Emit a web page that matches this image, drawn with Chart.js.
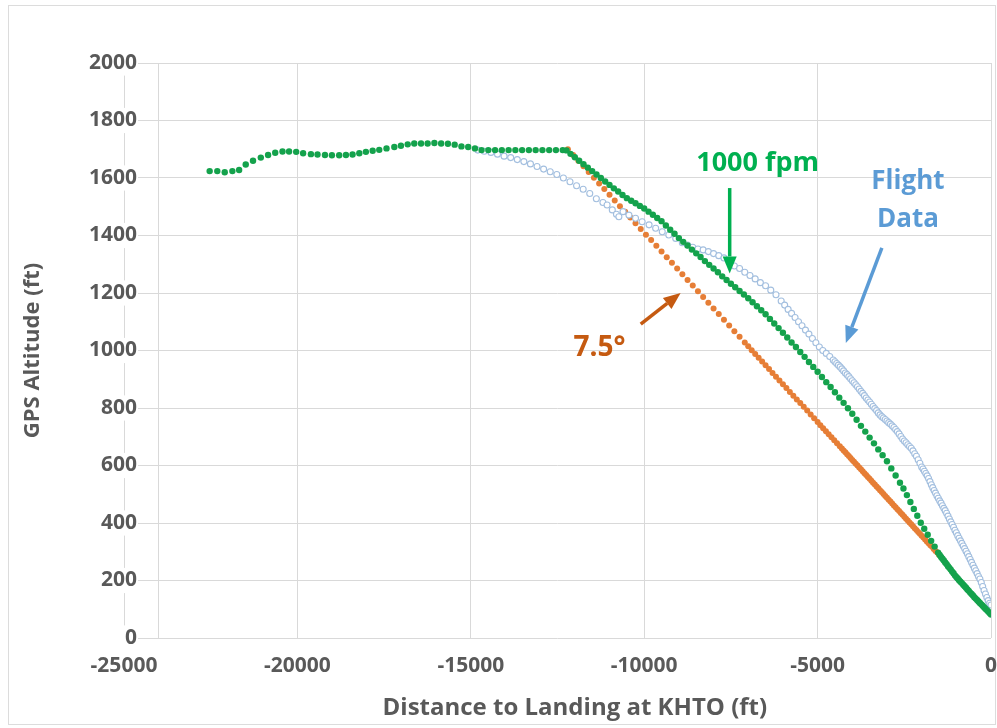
<!DOCTYPE html>
<html><head><meta charset="utf-8">
<script src="https://cdn.jsdelivr.net/npm/chart.js@4.4.0/dist/chart.umd.min.js"></script>
<style>html,body{margin:0;padding:0;background:#fff}canvas{display:block}</style>
</head><body>
<canvas id="c" width="997" height="728"></canvas>
<script>
// ---- data ----
const xTickValues = [-25000, -20000, -15000, -10000, -5000, 0];
const xExtraGrid = [-24000];
const yTickValues = [0, 200, 400, 600, 800, 1000, 1200, 1400, 1600, 1800, 2000];

const fpmX = [-22530,-22310,-22095,-21875,-21680,-21490,-21280,-21055,-20845,-20640,-20430,-20240,-20035,-19835,-19610,-19420,-19205,-19005,-18795,-18600,-18410,-18215,-18025,-17830,-17640,-17430,-17205,-17015,-16820,-16630,-16435,-16245,-16050,-15855,-15660,-15465,-15270,-15075,-14880,-14690,-14495,-14300,-14105,-13910,-13715,-13520,-13325,-13130,-12935,-12740,-12545,-12350,-12240,
-12125,-12000,-11875,-11750,-11625,-11500,-11375,-11250,-11125,-11000,-10875,-10750,-10625,-10500,-10375,-10250,-10125,-10000,-9875,-9750,-9625,-9500,-9375,-9250,-9125,-9000,-8875,-8750,-8625,-8500,-8375,-8250,-8125,-8000,-7875,-7750,-7625,-7500,-7375,-7250,-7125,-7000,-6875,-6750,-6625,-6500,-6375,-6250,-6125,-6000,-5875,-5750,-5625,-5500,-5375,-5250,-5125,-5000,-4875,-4750,-4625,-4500,-4375,-4250,-4125,-4000,-3875,-3750,-3625,-3500,-3375,-3250,-3125,-3000,-2875,-2750,-2625,
-2525,-2425,-2325,-2225,-2125,-2025,-1925,-1825,-1725,-1625,-1525,
-1480,-1440,-1400,-1360,-1320,-1280,-1240,-1200,-1160,-1120,-1080,-1040,-1000,-960,-920,-880,-840,-800,-760,-720,-680,-640,-600,-560,-520,-480,-440,-400,-360,-320,-280,-240,-200,-160,-120,-80,-40,0];
const fpmY = [1624,1624,1620,1624,1628,1647,1660,1671,1680,1688,1692,1692,1691,1686,1683,1682,1680,1679,1679,1680,1682,1686,1691,1695,1698,1703,1708,1712,1717,1720,1720,1720,1722,1720,1719,1716,1710,1708,1703,1697,1697,1697,1697,1697,1697,1697,1697,1697,1697,1697,1697,1697,1696,
1684,1672,1660,1648,1636,1624,1612,1600,1588,1576,1564,1553,1541,1530,1521,1512,1503,1494,1483,1472,1461,1450,1435,1420,1406,1391,1378,1365,1351,1338,1325,1311,1298,1285,1272,1258,1245,1232,1220,1207,1195,1182,1168,1154,1140,1126,1110,1094,1078,1062,1045,1028,1012,995,978,960,943,926,908,890,873,855,836,818,799,780,759,738,718,697,677,656,636,615,590,565,540,
520,497,473,449,425,401,380,359,338,318,297,
289,282,276,270,263,257,250,244,238,231,225,218,212,207,201,196,191,185,180,175,169,164,158,153,148,142,137,132,127,122,117,112,107,102,97,92,87,82];

const glideX = [-12200,-12050,-11900,-11750,-11600,-11450,-11300,-11150,-11000,-10850,-10700,-10550,-10400,-10250,-10100,-9950,-9800,-9650,-9500,-9350,-9200,-9050,-8900,-8750,-8600,-8450,-8300,-8150,-8000,-7850,-7700,-7550,-7400,-7250,-7100,
-7000,-6900,-6800,-6700,-6600,-6500,-6400,-6300,-6200,-6100,-6000,-5900,-5800,-5700,-5600,-5500,-5400,-5300,-5200,-5100,-5000,
-4920,-4840,-4760,-4680,-4600,-4520,-4440,-4360,
-4300,-4250,-4200,-4150,-4100,-4050,-4000,-3950,-3900,-3850,-3800,-3750,-3700,-3650,-3600,-3550,-3500,-3450,-3400,-3350,-3300,-3250,-3200,-3150,-3100,-3050,-3000,-2950,-2900,-2850,-2800,-2750,-2700,-2650,-2600,-2550,-2500,-2450,-2400,-2350,-2300,-2250,-2200,-2150,-2100,-2050,-2000,-1950,-1900,-1850,-1800,-1750,-1700,-1650,-1600,-1550,-1500];
const glideY = [1700,1680,1660,1641,1621,1601,1581,1562,1542,1522,1502,1483,1463,1443,1423,1403,1384,1364,1344,1324,1305,1285,1265,1245,1226,1206,1186,1166,1146,1127,1107,1087,1067,1048,1028,
1015,1001,988,975,962,949,936,922,909,896,883,870,856,843,830,817,804,791,777,764,751,
740,730,719,709,698,688,677,667,
659,652,646,639,633,626,619,613,606,600,593,587,580,573,567,560,554,547,540,534,527,521,514,508,501,494,488,481,475,468,461,455,448,442,435,429,422,415,409,402,396,389,382,376,369,363,356,350,343,336,330,323,317,310,303,297,290];

const flightX = [-14800,-14610,-14420,-14230,-14040,-13850,-13660,-13470,-13280,-13090,-12900,-12710,-12520,-12330,-12140,-11950,-11760,-11570,-11380,-11190,-11070,-10920,-10800,-10730,-10610,-10440,-10250,-10060,-9860,-9670,-9480,-9290,-9090,-8900,
-8750,-8600,-8450,-8300,-8150,-8000,-7850,-7700,-7550,-7400,-7250,-7100,-6950,-6800,-6650,-6500,-6350,-6200,-6050,
-5950,-5850,-5750,-5650,-5550,-5450,-5350,-5250,-5150,-5050,-4950,-4850,-4750,-4650,-4550,
-4500,-4450,-4400,-4350,-4300,-4250,-4200,-4150,-4100,-4050,-4000,-3950,-3900,-3850,-3800,-3750,-3700,-3650,-3600,-3550,-3500,-3450,-3400,-3350,-3300,-3250,-3200,-3150,-3100,-3050,-3000,-2950,-2900,-2850,-2800,-2750,-2700,-2650,-2600,-2550,-2500,-2450,-2400,-2350,-2300,-2250,-2200,-2150,-2100,-2050,-2000,
-1960,-1920,-1880,-1840,-1800,-1760,-1720,-1680,-1640,-1600,-1560,-1520,-1480,-1440,-1400,-1360,-1320,-1280,-1240,-1200,-1160,-1120,-1080,-1040,-1000,-960,-920,-880,-840,-800,-760,-720,-680,-640,-600,-560,-520,-480,-440,-400,-360,-320,-280,-240,-200,-160,-120,-80,-40,0];
const flightY = [1697,1693,1689,1683,1676,1671,1664,1657,1649,1640,1631,1622,1612,1600,1587,1573,1561,1546,1528,1515,1506,1489,1474,1465,1483,1471,1460,1448,1437,1425,1413,1402,1390,1375,
1367,1359,1353,1350,1344,1337,1330,1322,1309,1294,1285,1272,1261,1249,1236,1225,1210,1194,1172,
1158,1143,1129,1115,1100,1086,1071,1057,1042,1027,1012,1000,990,979,967,
961,955,949,943,936,929,922,916,909,902,895,888,881,874,866,858,851,843,835,828,821,813,805,798,791,783,776,770,765,760,755,749,744,738,732,725,718,710,701,692,685,679,672,666,660,651,641,632,620,608,595,
588,580,572,564,555,544,533,523,513,504,495,486,477,469,460,451,443,434,424,414,404,395,385,375,366,356,347,338,329,320,311,302,293,283,273,263,253,243,234,224,214,205,193,179,165,153,141,130,121,115];

const toPts = (xs, ys) => xs.map((v, i) => ({ x: v, y: ys[i] }));

const FONT = "'Open Sans', 'Liberation Sans', sans-serif";
const GRID = '#d9d9d9';
const AXIS_TEXT = '#595959';

const framePlugin = {
  id: 'frame',
  beforeDraw(chart) {
    const c = chart.ctx;
    c.save();
    c.fillStyle = '#fff';
    c.fillRect(0, 0, chart.width, chart.height);
    c.strokeStyle = '#dcdcdc';
    c.lineWidth = 1;
    c.strokeRect(8.5, 5.5, 987, 719);
    c.restore();
  }
};

function arrow(ctx, x1, y1, x2, y2, color) {
  const ang = Math.atan2(y2 - y1, x2 - x1);
  const hl = 17, hw = 7;
  const bx = x2 - hl * Math.cos(ang), by = y2 - hl * Math.sin(ang);
  ctx.save();
  ctx.strokeStyle = color; ctx.fillStyle = color;
  ctx.lineWidth = 3.5; ctx.lineCap = 'butt';
  ctx.beginPath(); ctx.moveTo(x1, y1); ctx.lineTo(bx, by); ctx.stroke();
  ctx.beginPath();
  ctx.moveTo(x2, y2);
  ctx.lineTo(bx + hw * Math.sin(ang), by - hw * Math.cos(ang));
  ctx.lineTo(bx - hw * Math.sin(ang), by + hw * Math.cos(ang));
  ctx.closePath(); ctx.fill();
  ctx.restore();
}

const notesPlugin = {
  id: 'notes',
  afterDraw(chart) {
    const { ctx, scales: { x, y }, chartArea } = chart;
    const P = (vx, vy) => [x.getPixelForValue(vx), y.getPixelForValue(vy)];
    ctx.save();
    ctx.textAlign = 'center';
    ctx.textBaseline = 'middle';
    // 1000 fpm
    ctx.fillStyle = '#00b050';
    ctx.font = 'bold 27px ' + FONT;
    let p = P(-6730, 1652); ctx.fillText('1000 fpm', p[0], p[1]);
    arrow(ctx, ...P(-7535, 1565), ...P(-7535, 1268), '#00b050');
    // Flight Data
    ctx.fillStyle = '#5b9bd5';
    ctx.font = 'bold 26px ' + FONT;
    p = P(-2396, 1586); ctx.fillText('Flight', p[0], p[1]);
    p = P(-2396, 1455); ctx.fillText('Data', p[0], p[1]);
    arrow(ctx, ...P(-3147, 1357), ...P(-4186, 1026), '#5b9bd5');
    // 7.5°
    ctx.fillStyle = '#c55a11';
    ctx.font = 'bold 28px ' + FONT;
    p = P(-11290, 1010); ctx.fillText('7.5°', p[0], p[1]);
    arrow(ctx, ...P(-10100, 1092), ...P(-8950, 1200), '#c55a11');
    // axis titles
    ctx.fillStyle = AXIS_TEXT;
    ctx.font = 'bold 24px ' + FONT;
    const cx = (x.getPixelForValue(xExtraGrid[0]) + chartArea.right) / 2;
    ctx.fillText('Distance to Landing at KHTO (ft)', cx, chartArea.bottom + 70);
    ctx.font = 'bold 22px ' + FONT;
    ctx.translate(33, (chartArea.top + chartArea.bottom) / 2);
    ctx.rotate(-Math.PI / 2);
    ctx.fillText('GPS Altitude (ft)', 0, 0);
    ctx.restore();
  }
};

new Chart(document.getElementById('c'), {
  type: 'scatter',
  data: {
    datasets: [
      { label: '1000 fpm', data: toPts(fpmX, fpmY), order: 0,
        pointRadius: 3.2, pointBorderWidth: 0, backgroundColor: '#14a24c', borderColor: '#14a24c' },
      { label: 'Flight Data', data: toPts(flightX, flightY), order: 1,
        pointRadius: 3, pointBorderWidth: 1.1, backgroundColor: '#ffffff', borderColor: '#a3bfdf' },
      { label: '7.5°', data: toPts(glideX, glideY), order: 2,
        pointRadius: 3, pointBorderWidth: 0, backgroundColor: '#e67e36', borderColor: '#e67e36' }
    ]
  },
  options: {
    responsive: false,
    animation: false,
    devicePixelRatio: 1,
    layout: { padding: { left: 10, right: 6, top: 63, bottom: 0 } },
    plugins: { legend: { display: false }, tooltip: { enabled: false } },
    scales: {
      x: {
        type: 'linear', min: -25000, max: 0,
        afterBuildTicks: s => { s.ticks = xTickValues.concat(xExtraGrid).sort((a, b) => a - b).map(v => ({ value: v })); },
        afterFit: s => { s.height = 90; s.paddingRight = 0; s.paddingLeft = 0; },
        grid: { color: GRID, lineWidth: 1, drawTicks: false },
        border: { display: false },
        ticks: {
          autoSkip: false, maxRotation: 0, minRotation: 0, padding: 15,
          color: AXIS_TEXT, font: { family: FONT, size: 21, weight: 'bold' },
          callback: v => xTickValues.includes(v) ? String(v) : ''
        }
      },
      y: {
        min: 0, max: 2000,
        afterBuildTicks: s => { s.ticks = yTickValues.map(v => ({ value: v })); },
        afterFit: s => { s.width = 114; s._computeLabelArea = () => undefined; },
        grid: { color: GRID, lineWidth: 1, drawTicks: false },
        border: { display: false },
        ticks: {
          padding: -13, color: AXIS_TEXT, font: { family: FONT, size: 21, weight: 'bold' },
          showLabelBackdrop: true, backdropColor: '#ffffff', backdropPadding: { top: 0, bottom: 0, left: 1, right: 1 },
          callback: v => String(v)
        }
      }
    }
  },
  plugins: [framePlugin, notesPlugin]
});
</script>
</body></html>
